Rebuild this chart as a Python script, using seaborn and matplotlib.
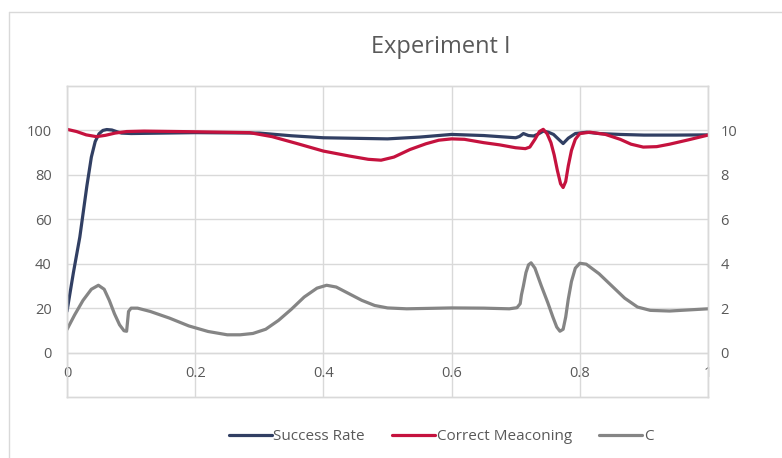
import matplotlib
matplotlib.use("Agg")
import matplotlib.pyplot as plt
import pandas as pd
import seaborn as sns

# values
success_x = [0, 0.01, 0.02, 0.031, 0.038, 0.044, 0.05, 0.056, 0.062, 0.07, 0.078, 0.085,
             0.1, 0.15, 0.2, 0.3, 0.35, 0.4, 0.5, 0.55, 0.6, 0.65, 0.7, 0.706, 0.712,
             0.72, 0.728, 0.736, 0.743, 0.751, 0.759, 0.767, 0.774, 0.782, 0.793, 0.811,
             0.83, 0.863, 0.9, 0.95, 1.0]
success_y = [18.6, 36, 52, 75, 88, 95, 98.5, 100, 100.4, 100.2, 99.4, 98.8,
             98.6, 98.8, 99, 98.8, 97.6, 96.7, 96.2, 97, 98.2, 97.7, 96.7, 97.3, 98.6,
             97.7, 97.5, 98.5, 99.7, 99.2, 98.2, 96, 94.1, 96.5, 98.6, 99.2,
             98.6, 98.2, 97.9, 97.9, 98]

meac_x = [0, 0.015, 0.03, 0.046, 0.06, 0.075, 0.093, 0.12, 0.2, 0.285, 0.32, 0.36, 0.4,
          0.44, 0.47, 0.49, 0.51, 0.535, 0.56, 0.58, 0.6, 0.62, 0.65, 0.675, 0.7, 0.715,
          0.722, 0.73, 0.737, 0.743, 0.749, 0.755, 0.76, 0.765, 0.77, 0.774, 0.778,
          0.782, 0.787, 0.793, 0.8, 0.816, 0.84, 0.863, 0.88, 0.899, 0.92, 0.94, 0.97, 1.0]
meac_y = [10.05, 9.95, 9.8, 9.72, 9.78, 9.88, 9.95, 9.97, 9.94, 9.9, 9.72, 9.4, 9.07,
          8.85, 8.7, 8.66, 8.8, 9.14, 9.4, 9.56, 9.62, 9.6, 9.45, 9.35, 9.22, 9.18,
          9.25, 9.6, 9.95, 10.05, 9.85, 9.45, 8.9, 8.2, 7.6, 7.43, 7.7,
          8.4, 9.1, 9.6, 9.86, 9.92, 9.82, 9.6, 9.38, 9.25, 9.27, 9.38, 9.58, 9.79]

c_x = [0, 0.012, 0.025, 0.038, 0.049, 0.058, 0.066, 0.074, 0.082, 0.089, 0.093, 0.0945,
       0.096, 0.1, 0.11, 0.13, 0.16, 0.19, 0.22, 0.25, 0.27, 0.29, 0.31, 0.33, 0.35,
       0.37, 0.39, 0.405, 0.42, 0.44, 0.46, 0.48, 0.5, 0.53, 0.6, 0.65, 0.69, 0.702,
       0.707, 0.709, 0.712, 0.716, 0.72, 0.724, 0.73, 0.74, 0.75, 0.758, 0.764, 0.769,
       0.774, 0.778, 0.782, 0.787, 0.793, 0.8, 0.81, 0.83, 0.85, 0.87, 0.89, 0.91,
       0.94, 0.97, 1.0]
c_y = [1.04, 1.7, 2.35, 2.85, 3.03, 2.85, 2.35, 1.75, 1.25, 0.98, 0.96, 1.4,
       1.85, 2.0, 2.0, 1.85, 1.55, 1.2, 0.95, 0.8, 0.8, 0.86, 1.05, 1.45, 1.95,
       2.5, 2.9, 3.03, 2.95, 2.65, 2.35, 2.12, 2.01, 1.97, 2.01, 2.0, 1.97, 2.02,
       2.2, 2.6, 3.0, 3.6, 3.95, 4.04, 3.8, 3.0, 2.25, 1.6, 1.15, 0.96,
       1.05, 1.6, 2.4, 3.2, 3.8, 4.02, 3.98, 3.55, 3.0, 2.45, 2.05, 1.9,
       1.87, 1.92, 1.97]

x_ticks = [0, 0.2, 0.4, 0.6, 0.8, 1]
x_labels = ["0", "0.2", "0.4", "0.6", "0.8", "1"]
left_ticks = [0, 20, 40, 60, 80, 100]
right_ticks = [0, 2, 4, 6, 8, 10]

navy = "#313f63"
red = "#c5123e"
gray = "#858585"
grid_c = "#d9d9d9"
text_c = "#595959"

sns.set_theme(style="white")
plt.rcParams["font.family"] = ["Open Sans", "DejaVu Sans"]

fig = plt.figure(figsize=(7.82, 4.58), dpi=100)
ax = fig.add_axes([67 / 782, 1 - 397 / 458, (708 - 67) / 782, (397 - 86) / 458])
ax2 = ax.twinx()

df_s = pd.DataFrame({"x": success_x, "y": success_y})
df_m = pd.DataFrame({"x": meac_x, "y": meac_y})
df_c = pd.DataFrame({"x": c_x, "y": c_y})

line_kw = dict(lw=2.3, estimator=None, legend=False,
               solid_joinstyle="round", solid_capstyle="round")
sns.lineplot(data=df_s, x="x", y="y", ax=ax, color=navy, label="Success Rate", **line_kw)
sns.lineplot(data=df_m, x="x", y="y", ax=ax2, color=red, label="Correct Meaconing", **line_kw)
sns.lineplot(data=df_c, x="x", y="y", ax=ax2, color=gray, label="C", **line_kw)

ax.set_xlim(0, 1)
ax.set_ylim(-20, 120)
ax2.set_ylim(-2, 12)
ax.set_xticks(x_ticks)
ax.set_xticklabels(x_labels)
ax.set_yticks(left_ticks)
ax2.set_yticks(right_ticks)
ax.set_xlabel("")
ax.set_ylabel("")
ax2.set_ylabel("")

for a in (ax, ax2):
    for sp in a.spines.values():
        sp.set_color(grid_c)
        sp.set_linewidth(1.0)
ax.grid(True, color=grid_c, lw=1.0)
ax.set_axisbelow(True)
ax.axhline(0, color=grid_c, lw=1.0, zorder=0)

ax.tick_params(axis="x", length=0, pad=-22, labelsize=10.5, labelcolor=text_c)
ax.tick_params(axis="y", length=0, pad=11, labelsize=10.5, labelcolor=text_c)
ax2.tick_params(axis="y", length=0, pad=9, labelsize=10.5, labelcolor=text_c)

fig.text(441 / 782, 1 - 47 / 458, "Experiment I", ha="center", va="center",
         fontsize=17, color=text_c)

h1, l1 = ax.get_legend_handles_labels()
h2, l2 = ax2.get_legend_handles_labels()
fig.legend(h1 + h2, l1 + l2, loc="center", bbox_to_anchor=(441 / 782, 1 - 437 / 458),
           ncol=3, frameon=False, fontsize=11, handlelength=2.8, handletextpad=0.1,
           columnspacing=1.8, labelcolor=text_c)

# outer chart border
fig.add_artist(plt.Line2D([9 / 782, 1], [1 - 12 / 458, 1 - 12 / 458],
                          transform=fig.transFigure, color=grid_c, lw=1.0))
fig.add_artist(plt.Line2D([9 / 782, 9 / 782], [0, 1 - 12 / 458],
                          transform=fig.transFigure, color=grid_c, lw=1.0))

fig.savefig("out.png", dpi=100)
